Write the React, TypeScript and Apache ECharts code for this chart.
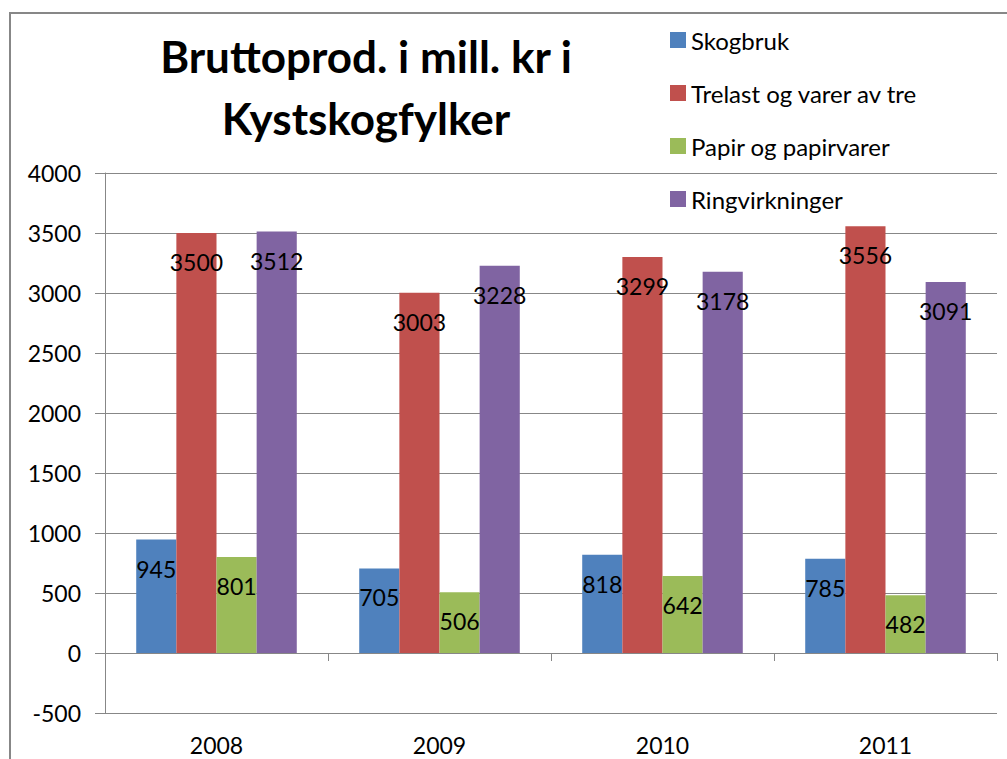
import React, { useEffect, useRef } from "react";
import * as echarts from "echarts";

const categories = ["2008", "2009", "2010", "2011"];
const seriesNames = ["Skogbruk", "Trelast og varer av tre", "Papir og papirvarer", "Ringvirkninger"];
const skogbruk = [945, 705, 818, 785];
const trelast = [3500, 3003, 3299, 3556];
const papir = [801, 506, 642, 482];
const ringvirkninger = [3512, 3228, 3178, 3091];
const colors = ["#4F81BD", "#C0504D", "#9BBB59", "#8064A2"];
const titleText = "Bruttoprod. i mill. kr i\nKystskogfylker";

const FONT = "Lato, 'Open Sans', sans-serif";

export default function App() {
  const ref = useRef<HTMLDivElement>(null);
  useEffect(() => {
    if (!ref.current) return;
    const chart = echarts.init(ref.current, null, { renderer: "svg" });
    const values = [skogbruk, trelast, papir, ringvirkninger];
    chart.setOption({
      animation: false,
      backgroundColor: "#ffffff",
      textStyle: { fontFamily: FONT },
      graphic: [
        {
          type: "rect",
          shape: { x: 10, y: 13, width: 1100, height: 900 },
          style: { fill: "none", stroke: "#878787", lineWidth: 2 },
          silent: true,
        },
        {
          type: "text",
          x: 366,
          y: 87,
          style: {
            text: titleText,
            textAlign: "center",
            textVerticalAlign: "middle",
            fontFamily: FONT,
            fontWeight: "bold",
            fontSize: 44,
            lineHeight: 62,
            fill: "#000000",
          },
        },
      ],
      legend: {
        orient: "vertical",
        left: 670,
        top: 27,
        padding: 0,
        itemWidth: 16,
        itemHeight: 16,
        itemGap: 27,
        icon: "rect",
        data: seriesNames,
        textStyle: { fontFamily: FONT, fontSize: 24, color: "#000000", lineHeight: 26 },
      },
      grid: { left: 105, right: 10, top: 173, bottom: 46, containLabel: false },
      xAxis: [
        {
          type: "category",
          data: categories,
          position: "bottom",
          axisLine: { onZero: true, lineStyle: { color: "#878787", width: 1 } },
          axisTick: { show: true, length: 8, inside: false, lineStyle: { color: "#878787" } },
          axisLabel: { show: false },
          splitLine: { show: false },
        },
        {
          type: "category",
          data: categories,
          position: "bottom",
          axisLine: { show: false, onZero: false },
          axisTick: { show: false },
          axisLabel: { show: true, fontFamily: FONT, fontSize: 23, color: "#000000", margin: 20 },
          splitLine: { show: false },
        },
      ],
      yAxis: {
        type: "value",
        min: -500,
        max: 4000,
        interval: 500,
        axisLine: { show: true, lineStyle: { color: "#878787", width: 1 } },
        axisTick: { show: true, length: 10, inside: false, lineStyle: { color: "#878787" } },
        axisLabel: {
          fontFamily: FONT,
          fontSize: 23,
          color: "#000000",
          margin: 24,
          formatter: (v: number) => String(v),
        },
        splitLine: { show: true, lineStyle: { color: "#878787", width: 1 } },
      },
      series: seriesNames.map((name, i) => ({
        name,
        type: "bar",
        xAxisIndex: 0,
        data: values[i],
        itemStyle: { color: colors[i] },
        barGap: "0%",
        barCategoryGap: "28%",
        label: {
          show: true,
          position: "insideTop",
          distance: 15,
          fontFamily: FONT,
          fontSize: 23,
          lineHeight: 28,
          color: "#000000",
        },
      })),
    });
    return () => chart.dispose();
  }, []);
  return (
    <div
      ref={ref}
      style={{ position: "absolute", left: 0, top: 0, width: 1007, height: 759, background: "#fff" }}
    />
  );
}
